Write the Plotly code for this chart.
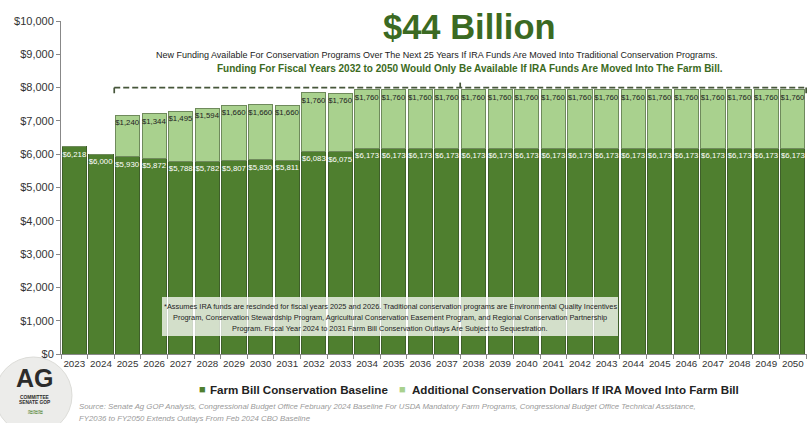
import plotly.graph_objects as go

years = [str(y) for y in range(2023, 2051)]
baseline = [6218, 6000, 5930, 5872, 5788, 5782, 5807, 5830, 5811, 6083, 6075] + [6173] * 17
additional = [0, 0, 1240, 1344, 1495, 1594, 1660, 1660, 1660] + [1760] * 19
ytick_vals = list(range(0, 10001, 1000))
ytick_text = ["${:,}".format(v) for v in ytick_vals]
series_names = ["Farm Bill Conservation Baseline",
                "Additional Conservation Dollars If IRA Moved Into Farm Bill"]

DARK = "#4f7f2f"
LIGHT = "#a9d18e"
FONT = "Liberation Sans, Arial, sans-serif"

fig = go.Figure()
fig.add_trace(go.Bar(
    x=years, y=baseline, name=series_names[0], showlegend=False,
    marker=dict(color=DARK, line=dict(color="#3f5f2a", width=1)),
    text=["${:,}".format(v) for v in baseline], textposition="inside",
    insidetextanchor="end", constraintext="none",
    textfont=dict(color="white", size=7.8, family=FONT), textangle=0,
))
add_text = ["${:,}".format(v) if v else "" for v in additional]
fig.add_trace(go.Bar(
    x=years, y=additional, name=series_names[1], showlegend=False,
    marker=dict(color=LIGHT, line=dict(color="#6f8a5c", width=1)),
    text=add_text, textposition="inside", insidetextanchor="end", constraintext="none",
    textfont=dict(color="#222", size=7.8, family=FONT), textangle=0,
))

# dashed bracket above IRA-funded years
first = next(i for i, v in enumerate(additional) if v > 0)
x0 = first - 0.5
x1 = len(years) - 0.5
yb = 8000
dash = dict(color="#46563a", width=1.7, dash="6px,3px")
solid = dict(color="#46563a", width=1.7)


def px_x(px):
    return (px - 61) / 746


def px_y(py):
    return (354 - py) / 333


shapes = [
    dict(type="line", xref="x", yref="y", x0=x0, x1=x1, y0=yb, y1=yb, line=dash),
    dict(type="line", xref="x", yref="y", x0=x0, x1=x0, y0=yb, y1=yb - 170, line=solid),
    dict(type="line", xref="x", yref="y", x0=x1, x1=x1, y0=yb, y1=yb - 170, line=solid),
    dict(type="line", xref="x", yref="y", x0=(x0 + x1) / 2, x1=(x0 + x1) / 2, y0=yb, y1=yb + 150, line=solid),
    # note box
    dict(type="rect", xref="paper", yref="paper", x0=px_x(162), x1=px_x(618),
         y0=px_y(336), y1=px_y(297),
         fillcolor="rgba(255,255,255,0.75)", line=dict(width=0), layer="above"),
    # logo circle
    dict(type="circle", xref="paper", yref="paper",
         x0=px_x(-5), x1=px_x(72), y0=px_y(434), y1=px_y(357),
         fillcolor="#ececea", line=dict(color="#dcdcd8", width=1), layer="above"),
]


def ann(text, x, y, size, color, xanchor="center", align="center", family=FONT):
    return dict(text=text, x=px_x(x), y=px_y(y), xref="paper", yref="paper", showarrow=False,
                xanchor=xanchor, yanchor="middle", align=align,
                font=dict(size=size, color=color, family=family))


note_lines = [
    "*Assumes IRA funds are rescinded for fiscal years 2025 and 2026. Traditional conservation programs are Environmental Quality Incentives",
    "Program, Conservation Stewardship Program, Agricultural Conservation Easement Program, and Regional Conservation Partnership",
    "Program. Fiscal Year 2024 to 2031 Farm Bill Conservation Outlays Are Subject to Sequestration.",
]

annotations = [
    ann("<b>$44 Billion</b>", 469, 27, 34.5, "#3b6a22"),
    ann("New Funding Available For Conservation Programs Over The Next 25 Years If IRA Funds Are Moved Into Traditional Conservation Programs.",
        436, 55, 9.0, "#222"),
    ann("<b>Funding For Fiscal Years 2032 to 2050 Would Only Be Available If IRA Funds Are Moved Into The Farm Bill.</b>",
        470, 68, 10.0, "#3b6a22"),
]
for i, line in enumerate(note_lines):
    annotations.append(ann(line, 390, 306 + 11 * i, 7.4, "#222"))

annotations += [
    ann("<i>Source: Senate Ag GOP Analysis, Congressional Budget Office February 2024 Baseline For USDA Mandatory Farm Programs, Congressional Budget Office Technical Assistance,</i>",
        77, 406, 7.8, "#9a9a9a", xanchor="left", align="left"),
    ann("<i>FY2036 to FY2050 Extends Outlays From Feb 2024 CBO Baseline</i>",
        77, 418, 7.8, "#9a9a9a", xanchor="left", align="left"),
    # legend (drawn as text so the small squares sit close to their labels)
    ann("■", 202, 389, 11, DARK),
    ann("<b>" + series_names[0] + "</b>", 208, 389, 11.6, "#222", xanchor="left"),
    ann("■", 402, 389, 11, LIGHT),
    ann("<b>" + series_names[1] + "</b>", 410, 389, 11.6, "#222", xanchor="left"),
    # logo
    ann("<b>AG</b>", 35, 378, 25, "#2b2b2b"),
    ann("<b>COMMITTEE</b>", 35, 397, 4.8, "#2b2b2b"),
    ann("<b>SENATE GOP</b>", 35, 403, 4.8, "#2b2b2b"),
    ann("<b>≈≈≈</b>", 35, 412, 9, "#5c8a3c"),
]

fig.update_layout(
    barmode="stack", bargap=0.09,
    width=809, height=423,
    margin=dict(l=61, r=2, t=21, b=69),
    paper_bgcolor="white", plot_bgcolor="white",
    font=dict(family=FONT, color="#333"),
    shapes=shapes, annotations=annotations,
    showlegend=False,
)
fig.update_xaxes(type="category", tickson="boundaries", ticks="outside", ticklen=4,
                 tickcolor="#888", showline=True, linecolor="#888", linewidth=1, tickangle=0,
                 tickfont=dict(size=9.8, color="#333", family=FONT), showgrid=False)
fig.update_yaxes(range=[0, 10000], tickvals=ytick_vals, ticktext=ytick_text, ticks="outside",
                 ticklen=4, tickcolor="#888", showline=True, linecolor="#888", linewidth=1,
                 tickfont=dict(size=11, color="#333", family=FONT), showgrid=False, zeroline=False)

fig.write_html("out.html")
